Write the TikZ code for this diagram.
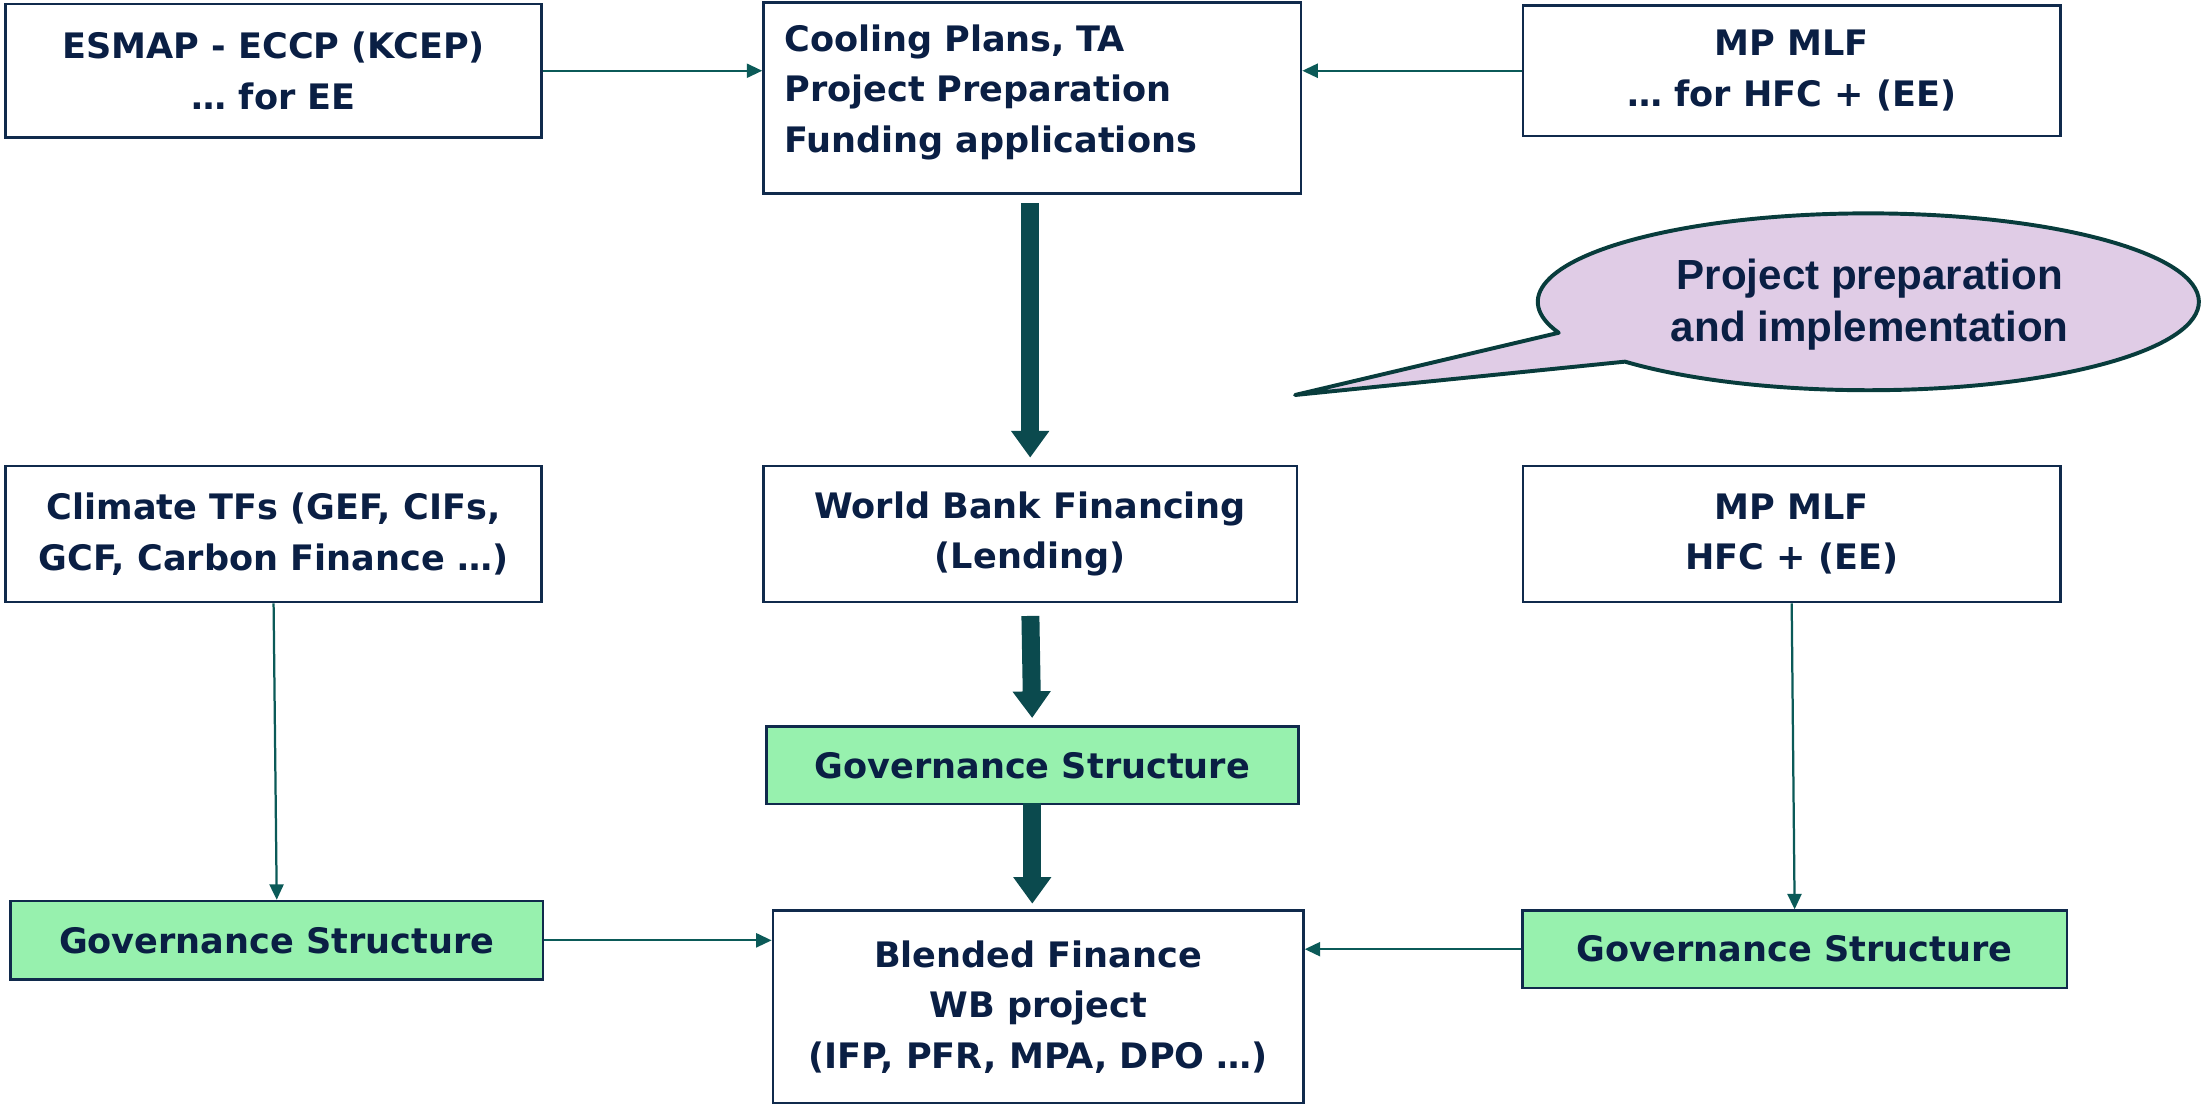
\documentclass[tikz,border=0pt]{standalone}
\usepackage{fontspec}
\setmainfont{DejaVu Sans}
\newfontfamily\callfont{Liberation Sans}
\usetikzlibrary{arrows.meta,calc}
\definecolor{textnavy}{HTML}{0A1F44}
\definecolor{boxline}{HTML}{102A4C}
\definecolor{thinteal}{HTML}{0B5A58}
\definecolor{bigteal}{HTML}{0B4A4E}
\definecolor{govgreen}{HTML}{97F1AE}
\definecolor{lilac}{HTML}{E0CCE6}
\definecolor{callline}{HTML}{083C3C}
\begin{document}
\begin{tikzpicture}[x=1pt,y=1pt,
  box/.style={draw=boxline, line width=1.8pt, inner sep=0pt, anchor=north west,
    text=textnavy, font=\bfseries\fontsize{25}{36}\selectfont, align=center},
  govbox/.style={box, fill=govgreen},
  thinarrow/.style={draw=thinteal, line width=1.6pt, -{Triangle[length=11pt,width=10pt]}},
  bigarrow/.style={draw=bigteal, line width=12.8pt, -{Triangle[length=19pt,width=26pt]}},
  callout/.style={fill=lilac, draw=callline, line width=2.8pt, line join=round}]
\useasboundingbox (0,0) rectangle (1568,-786);

% top row
\node[box, minimum width=382pt, minimum height=95pt] (esmap) at (3,-2)
  {ESMAP - ECCP (KCEP)\\… for EE};
\node[box, minimum width=383pt, minimum height=136pt, align=left,
  text width=353pt, inner xsep=15pt] (cool) at (543,-1)
  {Cooling Plans, TA\\Project Preparation\\Funding applications\\[-22pt]\mbox{}};
\node[box, minimum width=383pt, minimum height=93pt] (mpa) at (1084,-3)
  {MP MLF\\… for HFC + (EE)};

% middle row
\node[box, minimum width=382pt, minimum height=97pt] (climate) at (3,-331)
  {Climate TFs (GEF, CIFs,\\GCF, Carbon Finance …)};
\node[box, minimum width=380pt, minimum height=97pt] (wb) at (543,-331)
  {World Bank Financing\\(Lending)};
\node[box, minimum width=383pt, minimum height=97pt] (mpb) at (1084,-331)
  {MP MLF\\HFC + (EE)};

% governance structures
\node[govbox, minimum width=379pt, minimum height=55.5pt] (govc) at (545,-516.5)
  {Governance Structure};
\node[govbox, minimum width=379.5pt, minimum height=56pt] (govl) at (6.5,-641)
  {Governance Structure};
\node[govbox, minimum width=388pt, minimum height=55pt] (govr) at (1083.6,-647.8)
  {Governance Structure};

% final project
\node[box, minimum width=378pt, minimum height=137pt] (blend) at (549.7,-647.8)
  {Blended Finance\\WB project\\(IFP, PFR, MPA, DPO …)};

% thin connectors
\draw[thinarrow] (esmap.east) -- (esmap.east -| cool.west);
\draw[thinarrow] (mpa.west) -- (mpa.west -| cool.east);
\draw[thinarrow] (climate.south) -- (govl.north);
\draw[thinarrow] (mpb.south) -- (govr.north);
\draw[thinarrow] (govl.east) -- (govl.east -| blend.west);
\draw[thinarrow] (govr.west) -- (govr.west -| blend.east);

% main flow
\draw[bigarrow, shorten <=6pt, shorten >=5pt] (cool.south -| wb.north) -- (wb.north);
\draw[bigarrow, shorten <=9pt, shorten >=5pt] (wb.south) -- (govc.north);
\draw[bigarrow, shorten <=-2pt, shorten >=4pt] (govc.south) -- (govc.south |- blend.north);

% speech bubble
\coordinate (cc) at (1331,-215);
\coordinate (tip) at (922.6,-281.4);
\draw[callout] (tip) -- ($(cc)+(222.6:235.5pt and 63pt)$)
  arc[start angle=222.6, end angle=560.5, x radius=235.5pt, y radius=63pt] -- cycle;
\node[font=\callfont\bfseries\fontsize{30}{37}\selectfont, text=textnavy, align=center]
  (calltext) at (1332,-217) {Project preparation\\and implementation};
\end{tikzpicture}
\end{document}
